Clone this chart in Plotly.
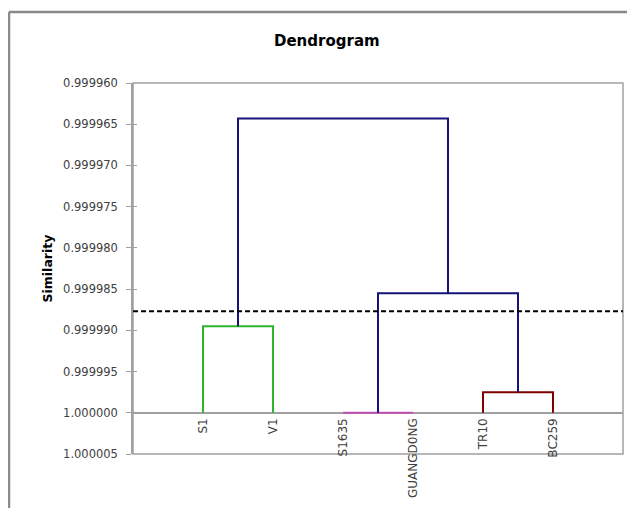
import plotly.graph_objects as go

# ---- data ----
leaves = ["S1", "V1", "S1635", "GUANGD0NG", "TR10", "BC259"]
leaf_pos = [1, 2, 3, 4, 5, 6]
leaf_height = 1.0
# linkage: (child_a, child_b, merge height); ids >= 6 are earlier merges
link_a = [0, 2, 4, 7, 6]
link_b = [1, 3, 5, 8, 9]
link_h = [0.9999895, 1.0, 0.9999975, 0.9999855, 0.9999643]
link_color = ["#2db52d", "#c14fb5", "#800000", "#14147a", "#14147a"]
cutoff = 0.9999877
y_ticks = [0.999960, 0.999965, 0.999970, 0.999975, 0.999980,
           0.999985, 0.999990, 0.999995, 1.000000, 1.000005]
y_min, y_max = 0.999960, 1.000005

# ---- build ----
pos = list(leaf_pos)
hgt = [leaf_height] * len(leaves)
fig = go.Figure()
for a, b, h, c in zip(link_a, link_b, link_h, link_color):
    xa, xb = pos[a], pos[b]
    fig.add_trace(go.Scatter(
        x=[xa, xa, xb, xb], y=[hgt[a], h, h, hgt[b]],
        mode="lines", line=dict(color=c, width=2), hoverinfo="skip",
        showlegend=False, cliponaxis=False))
    pos.append((xa + xb) / 2)
    hgt.append(h)

fig.add_trace(go.Scatter(
    x=[0, 7], y=[cutoff, cutoff], mode="lines",
    line=dict(color="black", width=2, dash="5px,3px"),
    hoverinfo="skip", showlegend=False))

# axis crossing value position (fraction of plot height, reversed axis)
cross = (y_max - 1.0) / (y_max - y_min)

# page body has an 8px margin; figure is sized to fit the window
W, H = 627, 500
L, T, PW, PH = 125, 75, 490, 371

fig.update_layout(
    width=W, height=H,
    margin=dict(l=L, r=W - L - PW, t=T, b=H - T - PH, autoexpand=False),
    paper_bgcolor="white", plot_bgcolor="white",
    xaxis=dict(range=[0, 7], tickmode="array", tickvals=leaf_pos,
               ticktext=leaves, tickangle=-90, showgrid=False,
               zeroline=False, showline=True, linecolor="#a0a0a0",
               linewidth=1.5, anchor="free", position=cross,
               ticks="", layer="below traces", automargin=False,
               tickfont=dict(family="DejaVu Sans", size=12, color="#404040")),
    yaxis=dict(range=[y_max, y_min], tickmode="array", tickvals=y_ticks,
               tickformat=".6f", showgrid=False, zeroline=False,
               showline=True, linecolor="#a0a0a0", linewidth=1.5,
               ticks="outside", ticklen=5, tickcolor="#a0a0a0",
               ticklabelstandoff=6, automargin=False,
               tickfont=dict(family="DejaVu Sans", size=11.5, color="#404040")),
    yaxis2=dict(range=[y_max, y_min], overlaying="y", tickmode="array",
                tickvals=y_ticks, showticklabels=False, showgrid=False,
                zeroline=False, ticks="inside", ticklen=4,
                tickcolor="#a0a0a0", side="left", automargin=False),
    shapes=[
        dict(type="rect", xref="paper", yref="paper", x0=0, x1=1, y0=0, y1=1,
             line=dict(color="#a0a0a0", width=1.5), layer="below"),
        dict(type="line", xref="paper", yref="paper",
             x0=(1 - L) / PW, x1=(1 - L) / PW, y0=(T + PH - 4) / PH, y1=-0.3,
             line=dict(color="#8a8a8a", width=2.5)),
        dict(type="line", xref="paper", yref="paper",
             x0=(1 - L) / PW, x1=1.1, y0=(T + PH - 4) / PH, y1=(T + PH - 4) / PH,
             line=dict(color="#8a8a8a", width=2.5)),
    ],
    annotations=[
        dict(text="<b>Dendrogram</b>", xref="paper", yref="paper",
             x=(319 - L) / PW, y=(T + PH - 33) / PH, xanchor="center",
             yanchor="middle", showarrow=False,
             font=dict(family="DejaVu Sans", size=15, color="black")),
        dict(text="<b>Similarity</b>", xref="paper", yref="paper",
             x=(39 - L) / PW, y=0.5, textangle=-90, xanchor="center",
             yanchor="middle", showarrow=False,
             font=dict(family="DejaVu Sans", size=12.5, color="black")),
    ],
)
# dummy trace to activate yaxis2
fig.add_trace(go.Scatter(x=[None], y=[None], yaxis="y2", showlegend=False))

fig.write_html("out.html")
